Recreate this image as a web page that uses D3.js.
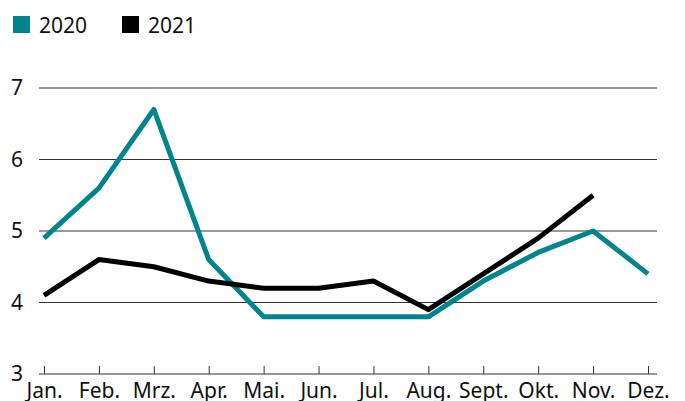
<!DOCTYPE html>
<html>
<head>
<meta charset="utf-8">
<script src="https://cdn.jsdelivr.net/npm/d3@7"></script>
<style>
body { margin: 0; background: #fff; }
text { font-family: "Noto Sans", sans-serif; }
</style>
</head>
<body>
<svg id="chart" width="685" height="401"></svg>
<script>
const months = ["Jan.", "Feb.", "Mrz.", "Apr.", "Mai.", "Jun.", "Jul.", "Aug.", "Sept.", "Okt.", "Nov.", "Dez."];
const values2020 = [4.9, 5.6, 6.7, 4.6, 3.8, 3.8, 3.8, 3.8, 4.3, 4.7, 5.0, 4.4];
const values2021 = [4.1, 4.6, 4.5, 4.3, 4.2, 4.2, 4.3, 3.9, 4.4, 4.9, 5.5];
const yTicks = [3, 4, 5, 6, 7];
const seriesNames = ["2020", "2021"];
const colors = ["#00848e", "#000000"];

const svg = d3.select("#chart");
const fontSize = 21;

// x is point positions of the months
let x = d3.scalePoint().domain(months).range([44, 648]);
let y = d3.scaleLinear().domain([3, 7]).range([374, 88]);

// gridlines
svg.append("g").selectAll("line").data(yTicks.slice(1)).join("line")
    .attr("x1", 39).attr("x2", 657)
    .attr("y1", d => y(d)).attr("y2", d => y(d))
    .attr("stroke", "#333").attr("stroke-width", 1);

// y labels
svg.append("g").selectAll("text").data(yTicks).join("text")
    .attr("x", 23).attr("y", d => y(d))
    .attr("dy", "0.35em")
    .attr("text-anchor", "end")
    .attr("font-size", fontSize)
    .attr("fill", "#111")
    .text(d => d);

// x axis with ticks pointing up
let xAxis = d3.axisBottom(x).tickSize(-8);
let gx = svg.append("g").attr("transform", `translate(0,${y(3)})`).call(xAxis);
gx.select(".domain").attr("d", "M39,0H657").attr("stroke", "#333");
gx.selectAll(".tick line").attr("stroke", "#333");
gx.selectAll(".tick text")
    .attr("y", 24).attr("dy", 0)
    .attr("font-size", fontSize).attr("fill", "#111")
    .attr("font-family", "'Noto Sans', sans-serif");

// lines
let line = d3.line().x((d, i) => x(months[i])).y(d => y(d));
[values2020, values2021].forEach((vals, i) => {
    svg.append("path").datum(vals)
        .attr("d", line)
        .attr("fill", "none")
        .attr("stroke", colors[i])
        .attr("stroke-width", 5)
        .attr("stroke-linejoin", "round");
});

// legend
let legendX = [13, 122];
seriesNames.forEach((name, i) => {
    svg.append("rect").attr("x", legendX[i]).attr("y", 16)
        .attr("width", 17).attr("height", 17).attr("fill", colors[i]);
    svg.append("text").attr("x", legendX[i] + 26).attr("y", 33)
        .attr("font-size", fontSize).attr("fill", "#111")
        .text(name);
});
</script>
</body>
</html>
